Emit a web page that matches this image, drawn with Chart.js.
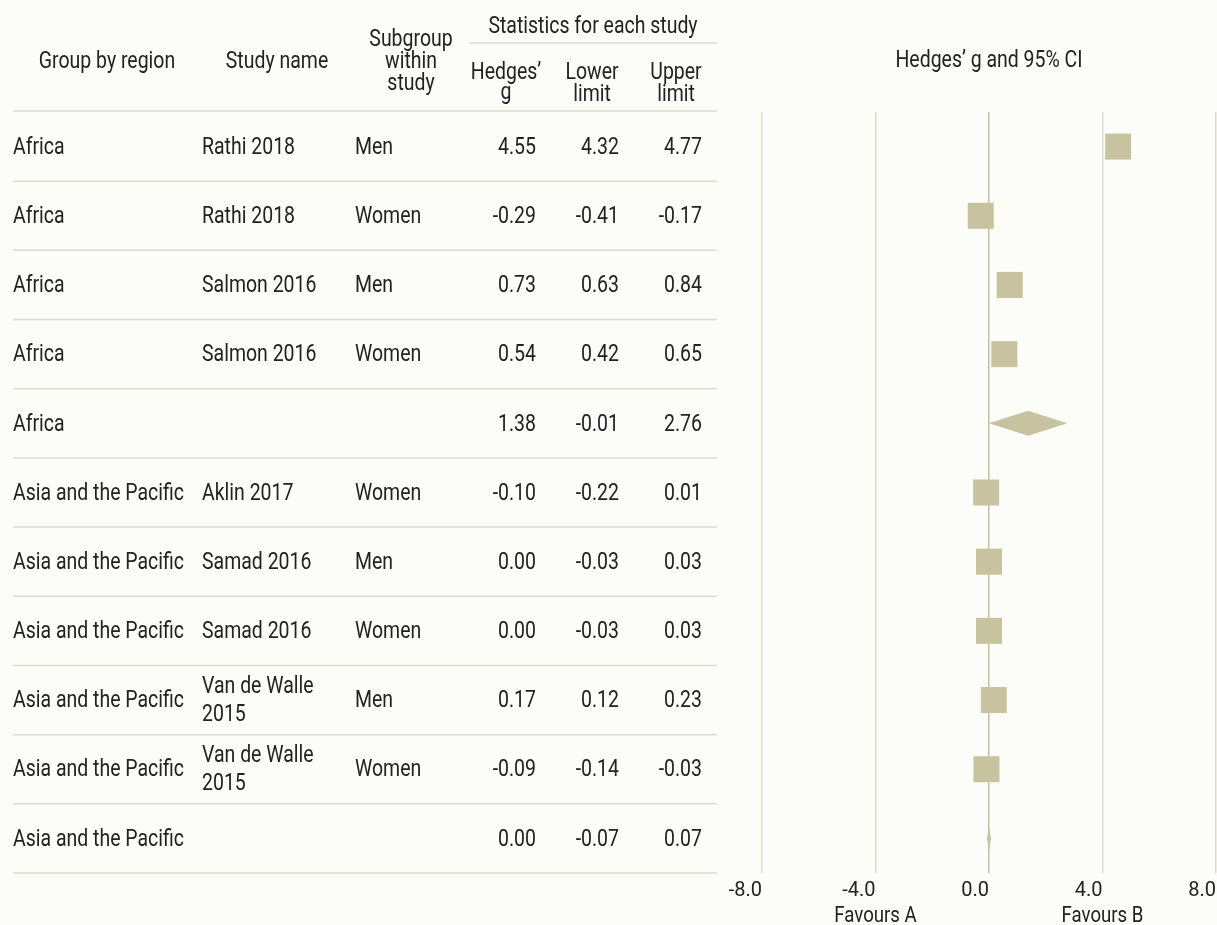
<!DOCTYPE html>
<html>
<head>
<meta charset="utf-8">
<title>Hedges' g by region</title>
<script src="https://cdn.jsdelivr.net/npm/chart.js@4.4.1/dist/chart.umd.min.js"></script>
<style>
  html, body { margin: 0; padding: 0; background: #fcfcf9; }
  #forest { display: block; }
</style>
</head>
<body>
<canvas id="forest" width="1217" height="925"></canvas>
<script>
// one row per study / subgroup, summary rows last in each region
const regions = ['Africa', 'Africa', 'Africa', 'Africa', 'Africa',
  'Asia and the Pacific', 'Asia and the Pacific', 'Asia and the Pacific',
  'Asia and the Pacific', 'Asia and the Pacific', 'Asia and the Pacific'];
const studies = ['Rathi 2018', 'Rathi 2018', 'Salmon 2016', 'Salmon 2016', '',
  'Aklin 2017', 'Samad 2016', 'Samad 2016', 'Van de Walle\n2015', 'Van de Walle\n2015', ''];
const subgroups = ['Men', 'Women', 'Men', 'Women', '', 'Women', 'Men', 'Women', 'Men', 'Women', ''];
const hedgesG = [4.55, -0.29, 0.73, 0.54, 1.38, -0.10, 0.00, 0.00, 0.17, -0.09, 0.00];
const lowerLimit = [4.32, -0.41, 0.63, 0.42, -0.01, -0.22, -0.03, -0.03, 0.12, -0.14, -0.07];
const upperLimit = [4.77, -0.17, 0.84, 0.65, 2.76, 0.01, 0.03, 0.03, 0.23, -0.03, 0.07];
const isSummary = [false, false, false, false, true, false, false, false, false, false, true];
const xTicks = [-8, -4, 0, 4, 8];

const FONT = "Roboto, 'Noto Sans', sans-serif";
const INK = '#222222';
const MARK = '#c7c3a0';
const RULE = '#dedbc6';

Chart.defaults.font.family = FONT;
Chart.defaults.color = INK;

const studyPoints = [];
hedgesG.forEach((g, i) => {
  if (!isSummary[i]) studyPoints.push({ x: g, y: i + 1 });
});

function fmt(v) {
  return v.toFixed(2);
}

// narrow text: draw squeezed horizontally so the table keeps its column widths
let squeeze = 0.85;
function narrowText(ctx, str, x, y, align) {
  const w = ctx.measureText(str).width * squeeze;
  const left = align === 'left' ? x : align === 'right' ? x - w : x - w / 2;
  ctx.save();
  ctx.translate(left, y);
  ctx.scale(squeeze, 1);
  ctx.textAlign = 'left';
  ctx.fillText(str, 0, 0);
  ctx.restore();
}

// table on the left, header, diamonds for the pooled rows
const forestTable = {
  id: 'forestTable',
  beforeDatasetsDraw(chart) {
    const { ctx, scales: { x, y } } = chart;
    ctx.save();
    // pooled estimates as diamonds
    ctx.fillStyle = MARK;
    hedgesG.forEach((g, i) => {
      if (!isSummary[i]) return;
      const cy = y.getPixelForValue(i + 1);
      ctx.beginPath();
      ctx.moveTo(x.getPixelForValue(lowerLimit[i]), cy);
      ctx.lineTo(x.getPixelForValue(g), cy - 12.5);
      ctx.lineTo(x.getPixelForValue(upperLimit[i]), cy);
      ctx.lineTo(x.getPixelForValue(g), cy + 12.5);
      ctx.closePath();
      ctx.fill();
    });
    ctx.restore();
  },
  afterDraw(chart) {
    const { ctx, scales: { x, y } } = chart;
    ctx.save();
    ctx.fillStyle = INK;
    ctx.font = '23px ' + FONT;
    squeeze = Math.min(1, 171 / ctx.measureText('Asia and the Pacific').width);
    ctx.textBaseline = 'alphabetic';

    // header
    narrowText(ctx, 'Group by region', 107, 68, 'center');
    narrowText(ctx, 'Study name', 277, 68, 'center');
    narrowText(ctx, 'Subgroup', 411, 46, 'center');
    narrowText(ctx, 'within', 411, 68, 'center');
    narrowText(ctx, 'study', 411, 90, 'center');
    narrowText(ctx, 'Statistics for each study', 593, 33, 'center');
    narrowText(ctx, 'Hedges\u2019', 506, 79, 'center');
    narrowText(ctx, 'g', 506, 99, 'center');
    narrowText(ctx, 'Lower', 592, 79, 'center');
    narrowText(ctx, 'limit', 592, 101, 'center');
    narrowText(ctx, 'Upper', 676, 79, 'center');
    narrowText(ctx, 'limit', 676, 101, 'center');
    narrowText(ctx, 'Hedges\u2019 g and 95% CI', (x.left + x.right) / 2, 67, 'center');

    ctx.strokeStyle = RULE;
    ctx.lineWidth = 1.5;
    ctx.beginPath();
    ctx.moveTo(469, 43);
    ctx.lineTo(717, 43);
    ctx.moveTo(13, 111);
    ctx.lineTo(717, 111);
    for (let i = 0; i < hedgesG.length; i++) {
      const by = y.getPixelForValue(i + 1.5);
      ctx.moveTo(13, by);
      ctx.lineTo(717, by);
    }
    ctx.stroke();

    // rows
    ctx.textBaseline = 'middle';
    hedgesG.forEach((g, i) => {
      const cy = y.getPixelForValue(i + 1) + 1.5;
      narrowText(ctx, regions[i], 13, cy, 'left');
      const lines = studies[i].split('\n');
      if (lines.length > 1) {
        narrowText(ctx, lines[0], 202, cy - 14, 'left');
        narrowText(ctx, lines[1], 202, cy + 14, 'left');
      } else {
        narrowText(ctx, lines[0], 202, cy, 'left');
      }
      narrowText(ctx, subgroups[i], 355, cy, 'left');
      narrowText(ctx, fmt(g), 536, cy, 'right');
      narrowText(ctx, fmt(lowerLimit[i]), 619, cy, 'right');
      narrowText(ctx, fmt(upperLimit[i]), 702, cy, 'right');
    });

    // direction labels under the axis
    ctx.textBaseline = 'alphabetic';
    ctx.font = '22px ' + FONT;
    narrowText(ctx, 'Favours A', x.getPixelForValue(-4), 922, 'center');
    narrowText(ctx, 'Favours B', x.getPixelForValue(4), 922, 'center');
    ctx.restore();
  }
};

new Chart(document.getElementById('forest'), {
  type: 'scatter',
  data: {
    datasets: [{
      data: studyPoints,
      pointStyle: 'rect',
      pointRadius: 13 / Math.SQRT1_2,
      pointHoverRadius: 13 / Math.SQRT1_2,
      backgroundColor: MARK,
      borderWidth: 0,
      clip: false
    }]
  },
  options: {
    responsive: false,
    animation: false,
    events: [],
    layout: { autoPadding: false, padding: { left: 762, right: 1, top: 112, bottom: 0 } },
    plugins: { legend: { display: false }, tooltip: { enabled: false } },
    scales: {
      x: {
        type: 'linear',
        min: -8,
        max: 8,
        afterBuildTicks(scale) {
          scale.ticks = xTicks.map(v => ({ value: v }));
        },
        afterFit(scale) {
          scale.paddingLeft = 0;
          scale.paddingRight = 0;
          scale.height = 52;
        },
        border: { display: false },
        grid: {
          drawTicks: false,
          lineWidth: 1.5,
          color: c => (c.tick && c.tick.value === 0 ? '#c4c1a6' : '#dedcc6')
        },
        ticks: {
          align: 'end',
          padding: 6,
          color: INK,
          font: { size: 20 },
          callback: v => v.toFixed(1)
        }
      },
      y: {
        type: 'linear',
        display: false,
        reverse: true,
        min: 0.5,
        max: 11.5
      }
    }
  },
  plugins: [forestTable]
});
</script>
</body>
</html>
